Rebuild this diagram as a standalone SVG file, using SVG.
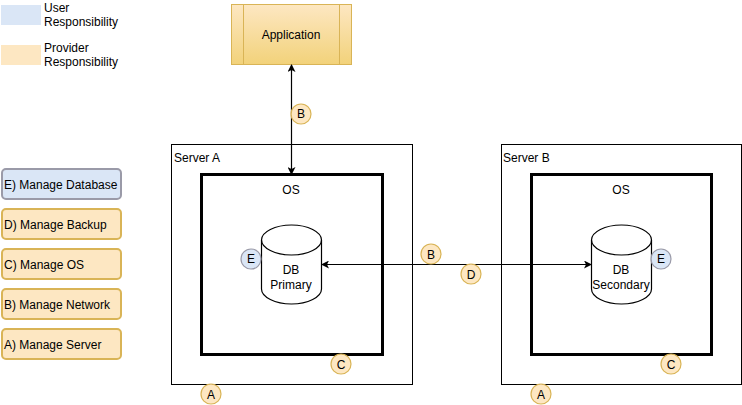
<svg xmlns="http://www.w3.org/2000/svg" width="742" height="405" viewBox="0 0 742 405">
<style>
text{font-family:"Liberation Sans",Arial,sans-serif;font-size:12px;fill:#000}
.m{text-anchor:middle}
.o{fill:#fde7c2;stroke:#d9b456;stroke-width:2}
.u{fill:#dae6f6;stroke:#9a9aa8;stroke-width:2}
.c{stroke-width:1.2}
.s{fill:#fff;stroke:#000;stroke-width:1}
.t{fill:none;stroke:#000;stroke-width:3}
.d{fill:#fff;stroke:#000;stroke-width:1.2}
.l{fill:none;stroke:#000;stroke-width:1.2}
</style>
<defs>
<linearGradient id="g" x1="0" y1="0" x2="0" y2="1"><stop offset="0" stop-color="#fde7c2"/><stop offset="1" stop-color="#f2d27a"/></linearGradient>
<marker id="a" viewBox="0 0 8 8" refX="7" refY="4" markerWidth="8" markerHeight="8" orient="auto-start-reverse" markerUnits="userSpaceOnUse"><path d="M0 0L8 4L0 8L2 4Z" fill="#000"/></marker>
</defs>
<g id="legend-user"><rect x="1" y="5" width="40" height="20" fill="#dae6f6"/><text x="44" y="12">User</text><text x="44" y="26">Responsibility</text></g>
<g id="legend-provider"><rect x="1" y="45" width="40" height="20" fill="#fde7c2"/><text x="44" y="52">Provider</text><text x="44" y="66">Responsibility</text></g>
<g id="manage-e"><rect class="u" x="2" y="169" width="119" height="30" rx="4"/><text x="4" y="189">E) Manage Database</text></g>
<g id="manage-d"><rect class="o" x="2" y="209" width="119" height="30" rx="4"/><text x="4" y="229">D) Manage Backup</text></g>
<g id="manage-c"><rect class="o" x="2" y="249" width="119" height="30" rx="4"/><text x="4" y="269">C) Manage OS</text></g>
<g id="manage-b"><rect class="o" x="2" y="289" width="119" height="30" rx="4"/><text x="4" y="309">B) Manage Network</text></g>
<g id="manage-a"><rect class="o" x="2" y="329" width="119" height="30" rx="4"/><text x="4" y="349">A) Manage Server</text></g>
<g id="application"><rect x="231.500" y="4.500" width="120" height="60" fill="url(#g)" stroke="#d9b456"/><path d="M243.500 4.500V64.500M339.500 4.500V64.500" fill="none" stroke="#d9b456"/><text class="m" x="291" y="39">Application</text></g>
<g id="server-a"><rect class="s" x="171.500" y="144.500" width="241" height="240"/><text x="174" y="162">Server A</text></g>
<g id="os-a"><rect class="t" x="201.500" y="174.500" width="181" height="180"/><text class="m" x="291" y="194">OS</text></g>
<g id="server-b"><rect class="s" x="501.500" y="144.500" width="240" height="240"/><text x="503" y="162">Server B</text></g>
<g id="os-b"><rect class="t" x="531.500" y="174.500" width="180" height="180"/><text class="m" x="621" y="194">OS</text></g>
<g id="db-primary"><path class="d" d="M261.500 240c0-8 13.500-15 30-15s30 7 30 15v49c0 8-13.500 15-30 15s-30-7-30-15Z"/><path class="l" d="M261.500 240c0 8 13.500 15 30 15s30-7 30-15"/><text class="m" x="291" y="274">DB</text><text class="m" x="291" y="289">Primary</text></g>
<g id="db-secondary"><path class="d" d="M591.500 240c0-8 13.500-15 30-15s30 7 30 15v49c0 8-13.500 15-30 15s-30-7-30-15Z"/><path class="l" d="M591.500 240c0 8 13.500 15 30 15s30-7 30-15"/><text class="m" x="621" y="274">DB</text><text class="m" x="621" y="289">Secondary</text></g>
<g id="connectors" fill="none" stroke="#000" stroke-width="1.200"><path d="M291.500 174V65" marker-start="url(#a)" marker-end="url(#a)"/><path d="M322 264.500H591" marker-start="url(#a)" marker-end="url(#a)"/></g>
<g id="badge-b1"><circle class="o c" cx="301" cy="114" r="10"/><text class="m" x="301" y="118">B</text></g>
<g id="badge-b2"><circle class="o c" cx="431" cy="254" r="10"/><text class="m" x="431" y="259">B</text></g>
<g id="badge-d"><circle class="o c" cx="471" cy="274" r="10"/><text class="m" x="471" y="279">D</text></g>
<g id="badge-e1"><circle class="u c" cx="251" cy="259" r="10"/><text class="m" x="251" y="263">E</text></g>
<g id="badge-e2"><circle class="u c" cx="661" cy="259" r="10"/><text class="m" x="661" y="263">E</text></g>
<g id="badge-c1"><circle class="o c" cx="341" cy="364" r="10"/><text class="m" x="341" y="369">C</text></g>
<g id="badge-c2"><circle class="o c" cx="671" cy="364" r="10"/><text class="m" x="671" y="369">C</text></g>
<g id="badge-a1"><circle class="o c" cx="211" cy="394" r="10"/><text class="m" x="211" y="399">A</text></g>
<g id="badge-a2"><circle class="o c" cx="541" cy="394" r="10"/><text class="m" x="541" y="399">A</text></g>
</svg>
